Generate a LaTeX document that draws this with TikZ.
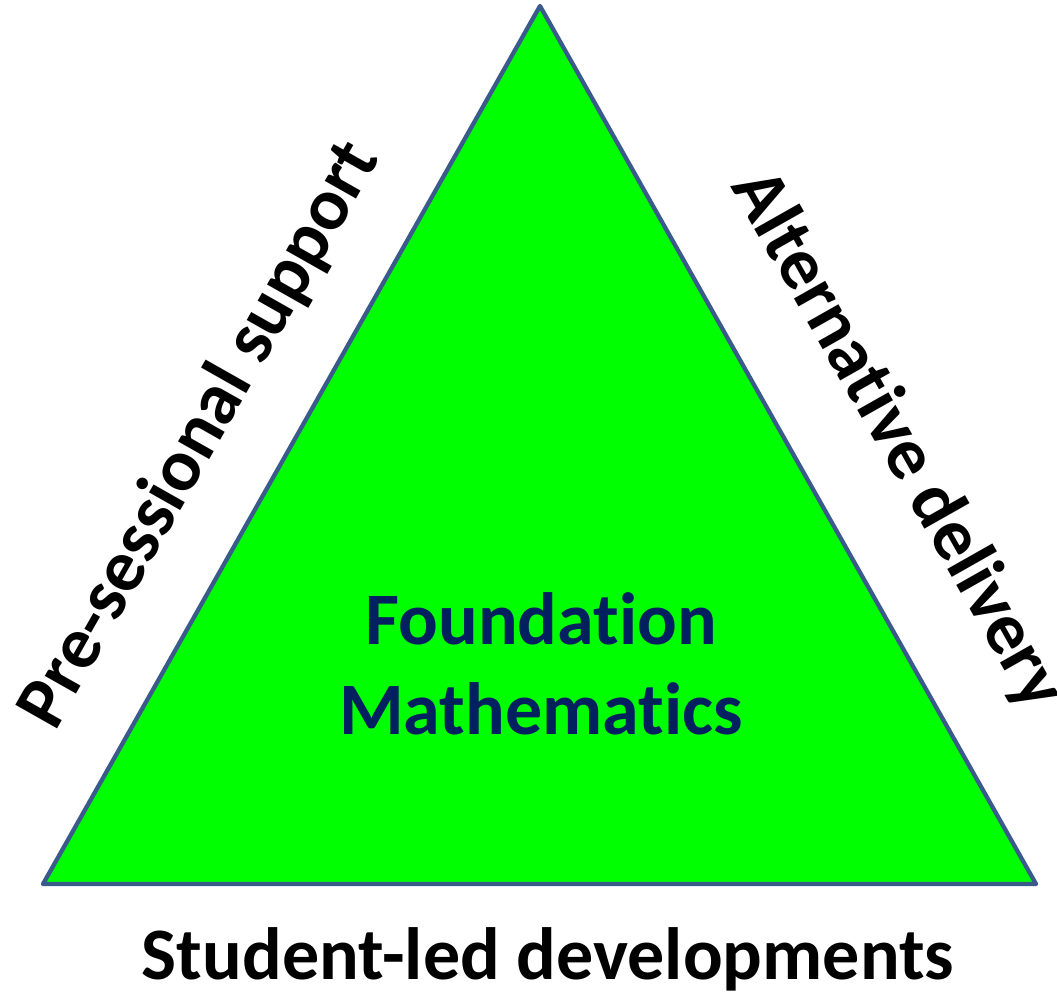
\documentclass[tikz,border=0pt]{standalone}
\usepackage{fontspec}
\setmainfont{Carlito}[Ligatures=NoCommon]
\definecolor{trifill}{HTML}{00FF00}
\definecolor{triedge}{HTML}{3B5A8C}
\definecolor{navytext}{HTML}{002060}
\begin{document}
\begin{tikzpicture}[x=0.75pt,y=0.75pt,
  sidelabel/.style={font=\bfseries\fontsize{55.5}{67.5}\selectfont, text=black, inner sep=0pt, anchor=base},
  corelabel/.style={font=\bfseries\fontsize{55.5}{67.5}\selectfont, text=navytext, inner sep=0pt, align=center}]
  \useasboundingbox (0,0) rectangle (1057,998);
  % triangle corners
  \coordinate (apex) at (540,992);
  \coordinate (bl) at (43,114);
  \coordinate (br) at (1036,114);
  \draw[fill=trifill, draw=triedge, line width=3.2pt, line join=round] (bl) -- (apex) -- (br) -- cycle;
  % centre label (base anchor sits on the last line)
  \node[corelabel, anchor=base] (core) at (541,263) {Foundation\\Mathematics};
  % labels along the sides
  \node[sidelabel, rotate=60.5] (pre) at (218,553) {Pre-sessional support};
  \node[sidelabel, rotate=-60.5] (alt) at (880,548) {Alternative delivery};
  \node[sidelabel] (stu) at (548,18) {Student-led developments};
\end{tikzpicture}
\end{document}
